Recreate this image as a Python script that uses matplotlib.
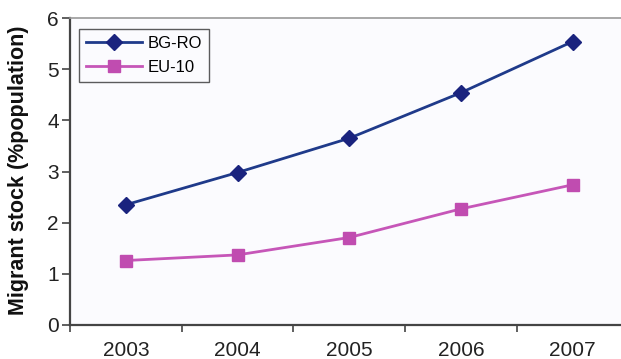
import matplotlib
matplotlib.use("Agg")
import matplotlib.pyplot as plt
import numpy as np

years = ["2003", "2004", "2005", "2006", "2007"]
bg_ro = [2.35, 2.98, 3.65, 4.54, 5.54]
eu_10 = [1.26, 1.37, 1.71, 2.27, 2.74]
y_ticks = [0, 1, 2, 3, 4, 5, 6]

plt.rcParams["font.family"] = ["Liberation Sans", "DejaVu Sans"]

W, H = 621, 359
fig = plt.figure(figsize=(W / 100, H / 100), dpi=100)
fig.patch.set_facecolor("white")

left, right, top, bottom = 70, 628.5, 18, 325
ax = fig.add_axes([left / W, 1 - bottom / H, (right - left) / W, (bottom - top) / H])
ax.set_facecolor("#fbfbfe")

x = np.arange(len(years))
ax.plot(x, bg_ro, color="#1f3a8a", lw=2, marker="D", ms=8,
        mfc="#1a237e", mec="#1a237e", label="BG-RO", zorder=3)
ax.plot(x, eu_10, color="#c656b8", lw=2, marker="s", ms=9,
        mfc="#c04cb0", mec="#c04cb0", label="EU-10", zorder=3)

ax.set_xlim(-0.5, len(years) - 0.5)
ax.set_ylim(0, 6)
ax.set_yticks(y_ticks)
ax.set_yticklabels([str(v) for v in y_ticks], fontsize=15, color="#222222")

# category boundaries carry the ticks, labels sit at the centres
ax.set_xticks(np.arange(-0.5, len(years), 1.0))
ax.set_xticklabels([])
ax.set_xticks(x, minor=True)
ax.set_xticklabels(years, minor=True, fontsize=15, color="#222222")
ax.tick_params(axis="x", which="major", direction="out", length=5, width=1.2, color="#444444")
ax.tick_params(axis="x", which="minor", length=0, pad=11.5)
ax.tick_params(axis="y", direction="out", length=6, width=1.2, color="#444444", pad=2)

for s in ("left", "bottom"):
    ax.spines[s].set_color("#444444")
    ax.spines[s].set_linewidth(1.6)
ax.spines["top"].set_color("#9a9a9a")
ax.spines["top"].set_linewidth(1.2)
ax.spines["right"].set_visible(False)

fig.text(19 / W, 1 - 170 / H, "Migrant stock (%population)", rotation=90,
         ha="center", va="center", fontsize=15.5, fontweight="bold", color="#111111")

leg = ax.legend(loc="upper left", bbox_to_anchor=(0.016, 0.963), fontsize=12,
                frameon=True, fancybox=False, edgecolor="#333333",
                handlelength=3.4, handletextpad=0.35, borderpad=0.4,
                labelspacing=0.55, borderaxespad=0)
leg.get_frame().set_linewidth(1.0)
leg.get_frame().set_facecolor("#fbfbfe")

fig.savefig("out.png", dpi=100)
